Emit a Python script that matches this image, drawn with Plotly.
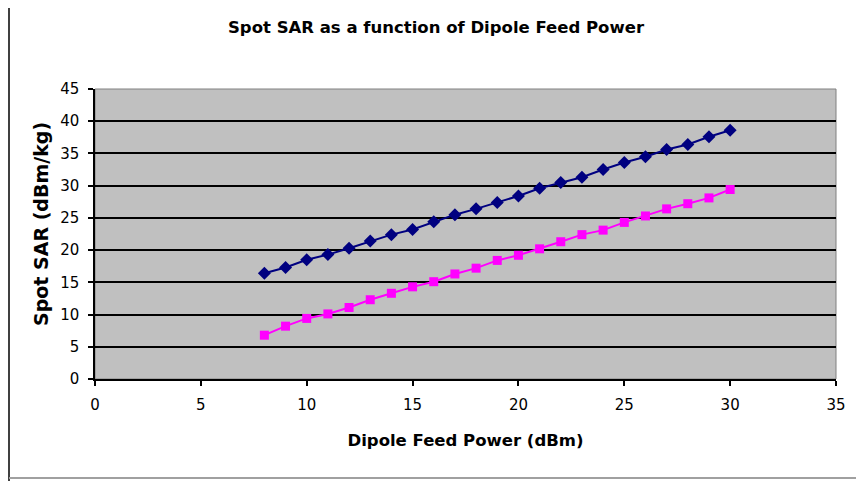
import plotly.graph_objects as go

power_dbm = list(range(8, 31))
sar_series1 = [16.4, 17.3, 18.5, 19.3, 20.3, 21.4, 22.4, 23.2, 24.4, 25.5, 26.4, 27.4,
               28.4, 29.6, 30.5, 31.3, 32.5, 33.6, 34.5, 35.6, 36.4, 37.6, 38.6]
sar_series2 = [6.8, 8.2, 9.4, 10.1, 11.1, 12.3, 13.3, 14.3, 15.1, 16.3, 17.2, 18.4,
               19.2, 20.2, 21.3, 22.4, 23.1, 24.3, 25.3, 26.4, 27.2, 28.1, 29.4]

x_ticks = [0, 5, 10, 15, 20, 25, 30, 35]
y_ticks = [0, 5, 10, 15, 20, 25, 30, 35, 40, 45]

font = "DejaVu Sans, Liberation Sans, Arial, sans-serif"

# figure is placed at an 8px page offset (body margin), sizes compensate
W, H = 856, 473
L, R, T, B = 87, 828, 81, 371
pw, ph = R - L, B - T

fig = go.Figure()
fig.add_trace(go.Scatter(x=power_dbm, y=sar_series1, mode="lines+markers",
                         line=dict(color="#000080", width=2),
                         marker=dict(symbol="diamond", size=10, color="#000080"),
                         showlegend=False))
fig.add_trace(go.Scatter(x=power_dbm, y=sar_series2, mode="lines+markers",
                         line=dict(color="#FF00FF", width=2),
                         marker=dict(symbol="square", size=9, color="#FF00FF"),
                         showlegend=False))

fig.update_layout(
    width=W, height=H,
    margin=dict(l=L, r=W - R, t=T, b=H - B, autoexpand=False),
    paper_bgcolor="white",
    plot_bgcolor="#C0C0C0",
    font=dict(family=font, size=15, color="black"),
    title=dict(text="<b>Spot SAR as a function of Dipole Feed Power</b>",
               x=0.5, xref="container", y=1 - 19 / H, yanchor="middle",
               font=dict(size=16.5, family=font)),
    xaxis=dict(range=[0, 35], tickvals=x_ticks, showgrid=False, zeroline=False,
               showline=True, linecolor="black", linewidth=1.5,
               ticks="outside", ticklen=5, tickcolor="black", tickwidth=1.5,
               ticklabelstandoff=6,
               title=dict(text="<b>Dipole Feed Power (dBm)</b>", standoff=22,
                          font=dict(size=16.5)),
               automargin=False),
    yaxis=dict(range=[0, 45], tickvals=y_ticks, showgrid=True, gridcolor="black",
               gridwidth=1.5, zeroline=False,
               showline=True, linecolor="black", linewidth=1.5,
               ticks="outside", ticklen=5, tickcolor="black", tickwidth=1.5,
               ticklabelstandoff=6,
               automargin=False),
    annotations=[
        dict(text="<b>Spot SAR (dBm/kg)</b>", textangle=-90, showarrow=False,
             xref="paper", yref="paper", x=(33 - L) / pw, y=(B - 216) / ph,
             xanchor="center", yanchor="middle", font=dict(size=19, family=font)),
    ],
    shapes=[
        dict(type="rect", xref="paper", yref="paper", x0=0, x1=1, y0=0, y1=1,
             line=dict(color="#808080", width=1), fillcolor="rgba(0,0,0,0)", layer="below"),
        dict(type="line", xref="paper", yref="paper",
             x0=(1 - L) / pw, x1=(1 - L) / pw, y0=(B - H) / ph, y1=B / ph,
             line=dict(color="#404040", width=2)),
        dict(type="line", xref="paper", yref="paper",
             x0=(1 - L) / pw, x1=(W - L) / pw, y0=(B - 470) / ph, y1=(B - 470) / ph,
             line=dict(color="#a0a0a0", width=2)),
    ],
)

fig.write_html("out.html")
